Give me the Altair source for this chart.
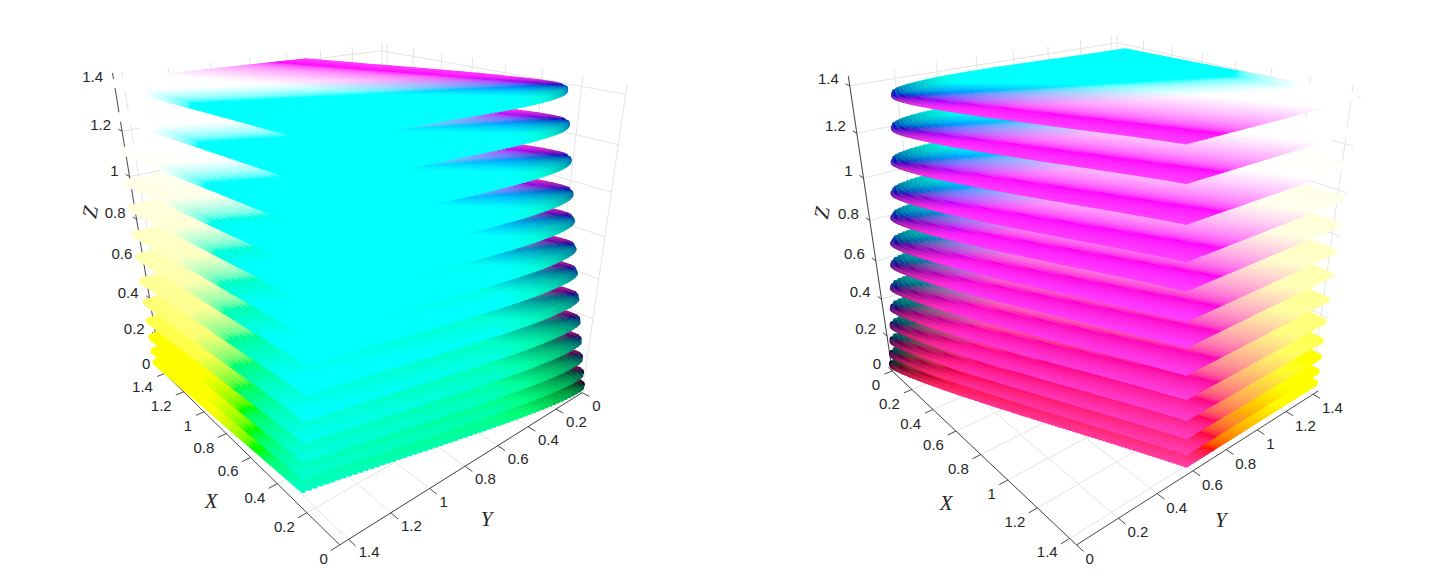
import numpy as np
import pandas as pd
import altair as alt

TICKS = [0, 0.2, 0.4, 0.6, 0.8, 1.0, 1.2, 1.4]
TICK_TEXT = ["0", "0.2", "0.4", "0.6", "0.8", "1", "1.2", "1.4"]
LIM = 1.44
Z_LEVELS = [1.40, 1.263, 1.115, 0.972, 0.855, 0.728, 0.616, 0.493, 0.38, 0.28, 0.19, 0.11, 0.045]

# axis landmarks: (X, Y, Z) -> page position
LEFT_CAL = [
    ((0, 1.44, 0), (340, 545)), ((1.4, 1.44, 0), (165, 374)), ((1.44, 1.44, 0), (160, 368)),
    ((0, 0, 0), (582, 393)), ((0, 1.2, 0), (392, 512)), ((0, 0.6, 0), (498, 447)),
    ((0, 0, 1.4), (626, 95)), ((0, 0, 1.0), (610, 192)), ((1.44, 1.44, 1.4), (113, 83)),
    ((1.44, 1.44, 0.8), (138, 221)), ((1.44, 0, 1.44), (383, 43)), ((0, 0, 1.44), (627, 82)),
]
RIGHT_CAL = [
    ((0, 0, 0), (892, 371)), ((1.44, 0, 0), (1077, 545)), ((1.4, 0, 0), (1069, 538)),
    ((1.44, 0.6, 0), (1191, 472)), ((1.44, 0.2, 0), (1120, 518)), ((1.44, 1.4, 0), (1314, 393)),
    ((0, 0, 1.4), (850, 85)), ((0, 0, 0.8), (870, 221)), ((1.4, 1.44, 1.2), (1345, 143)),
    ((1.4, 1.44, 0.8), (1332, 235)), ((0, 1.44, 1.44), (1117, 35)),
]
XYZ_TO_RGB = np.array([[3.2406, -1.5372, -0.4986],
                       [-0.9689, 1.8758, 0.0415],
                       [0.0557, -0.2040, 1.0570]])
NU, NV = 90, 60
RADIUS = 3.8


def calibrate(pairs):
    rows, rhs = [], []
    for (X, Y, Z), (u, v) in pairs:
        rows.append([X, Y, Z, 1, 0, 0, 0, 0, -u * X, -u * Y, -u * Z]); rhs.append(u)
        rows.append([0, 0, 0, 0, X, Y, Z, 1, -v * X, -v * Y, -v * Z]); rhs.append(v)
    p = np.linalg.lstsq(np.array(rows, float), np.array(rhs, float), rcond=None)[0]
    return np.append(p, 1).reshape(3, 4)


def project(P, X, Y, Z):
    X, Y, Z = np.asarray(X, float), np.asarray(Y, float), np.asarray(Z, float)
    w = P[2, 0] * X + P[2, 1] * Y + P[2, 2] * Z + P[2, 3]
    u = (P[0, 0] * X + P[0, 1] * Y + P[0, 2] * Z + P[0, 3]) / w
    v = (P[1, 0] * X + P[1, 1] * Y + P[1, 2] * Z + P[1, 3]) / w
    return u, v


def to_hex(X, Y, Z):
    r, g, b = XYZ_TO_RGB @ np.vstack([X, Y, Z])
    lift = np.maximum.reduce([np.zeros_like(r), -0.6 * r, -1.15 * g, -b])  # out-of-gamut colours get white
    rgb = np.clip(np.vstack([r, g, b]) + lift, 0, 1)
    rgb = np.where(rgb <= 0.0031308, 12.92 * rgb, 1.055 * rgb ** (1 / 2.4) - 0.055)
    rgb[2] *= np.clip(0.5 + 0.8 * (np.asarray(X) + np.asarray(Y)), 0.68, 1)   # the blue end is duller in the picture
    ints = np.round(rgb * 255).astype(int).T
    return ["#%02x%02x%02x" % tuple(c) for c in ints]


def bow(p):
    return np.sqrt(p) * (1 - p) ** 1.5 / 0.325


def slices(P, far):
    """One frame per level, dropping dots that higher levels hide completely."""
    S, T = [a.ravel() for a in np.meshgrid(np.linspace(0, 1, NU), np.linspace(0, 1, NV))]
    mask = np.zeros((620, 1500), bool)
    test = [(a, b) for a in range(-6, 7) for b in range(-6, 7) if a * a + b * b <= (RADIUS + 1) ** 2]
    stamp = [(a, b) for a in range(-6, 7) for b in range(-6, 7) if a * a + b * b <= (RADIUS - 1) ** 2]
    frames = []
    for z in Z_LEVELS:                      # highest level first
        A = np.array([0.171 * z, 0.064 * z])
        B = np.array([1.40 + 0.03 * (1 - z / 1.4), 0.57 - 0.04 * z])
        C = np.array([far, far])
        D = np.array([0.27 - 0.055 * z, 1.41 - 0.065 * z])
        XY = (np.outer((1 - S) * (1 - T), A) + np.outer(S * (1 - T), B)
              + np.outer(S * T, C) + np.outer((1 - S) * T, D))
        depth = 0.035 + 0.03 * z
        XY[:, 1] -= (1 - T) * bow(S) * depth
        XY[:, 0] -= (1 - S) * bow(T) * depth * 1.2
        Z = np.full(len(S), z)
        u, v = project(P, XY[:, 0], XY[:, 1], Z)
        iu, iv = np.round(u).astype(int) + 10, np.round(v).astype(int) + 10
        hidden = np.ones(len(S), bool)
        for a, b in test:
            hidden &= mask[iv + b, iu + a]
        for a, b in stamp:
            mask[iv + b, iu + a] = True
        keep = ~hidden
        frames.append(pd.DataFrame({"x": np.round(u[keep], 1), "y": np.round(v[keep], 1),
                                    "c": to_hex(XY[keep, 0], XY[keep, 1], Z[keep])}))
    return pd.concat(frames[::-1], ignore_index=True)   # lowest level drawn first


def seg_frame(P, segs):
    a = np.array([s[0] for s in segs], float)
    b = np.array([s[1] for s in segs], float)
    u1, v1 = project(P, a[:, 0], a[:, 1], a[:, 2])
    u2, v2 = project(P, b[:, 0], b[:, 1], b[:, 2])
    return pd.DataFrame({"x": u1, "y": v1, "x2": u2, "y2": v2})


def text_frame(P, pts, texts, dx, dy):
    a = np.array(pts, float)
    u, v = project(P, a[:, 0], a[:, 1], a[:, 2])
    return pd.DataFrame({"x": u + dx, "y": v + dy, "t": texts})


sx = alt.Scale(domain=[8, 1432], nice=False, zero=False)
sy = alt.Scale(domain=[568, 8], nice=False, zero=False)
X_ENC = alt.X("x:Q", scale=sx, axis=None)
Y_ENC = alt.Y("y:Q", scale=sy, axis=None)


def rules(df, color, width):
    return alt.Chart(df).mark_rule(color=color, strokeWidth=width).encode(
        x=X_ENC, y=Y_ENC, x2="x2:Q", y2="y2:Q")


def labels(df, align):
    return alt.Chart(df).mark_text(font="Liberation Sans", fontSize=15, color="#262626",
                                   align=align, baseline="middle").encode(
        x=X_ENC, y=Y_ENC, text="t:N")


def title(df, angle=0):
    return alt.Chart(df).mark_text(font="Liberation Serif", fontStyle="italic", fontSize=21,
                                   color="#262626", align="center", baseline="middle",
                                   angle=angle).encode(x=X_ENC, y=Y_ENC, text="t:N")


def panel(cal, far, wall_x, wall_y, ax_x_y, ax_y_x, x_tick, y_tick, z_tick_to, off):
    P = calibrate(cal)
    grid = []
    for t in TICKS:
        grid += [((t, 0, 0), (t, LIM, 0)), ((0, t, 0), (LIM, t, 0))]
        grid += [((wall_x, t, 0), (wall_x, t, LIM)), ((wall_x, 0, t), (wall_x, LIM, t))]
        grid += [((t, wall_y, 0), (t, wall_y, LIM)), ((0, wall_y, t), (LIM, wall_y, t))]
    zx = zy = LIM if wall_x == LIM else 0
    axes = [((0, ax_x_y, 0), (LIM, ax_x_y, 0)), ((ax_y_x, 0, 0), (ax_y_x, LIM, 0)),
            ((zx, zy, 0), (zx, zy, LIM))]
    tk = []
    for t in TICKS:
        tk.append(((t, ax_x_y, 0), (t, ax_x_y + x_tick, 0)))
        tk.append(((ax_y_x, t, 0), (ax_y_x + y_tick, t, 0)))
        tk.append(((zx, zy, t), (zx + z_tick_to, zy, t)))
    layers = [rules(seg_frame(P, grid), "#e4e4e4", 1),
              rules(seg_frame(P, axes + tk), "#333333", 0.9)]
    layers.append(alt.Chart(slices(P, far)).mark_circle(size=np.pi * RADIUS ** 2, opacity=1).encode(
        x=X_ENC, y=Y_ENC, color=alt.Color("c:N", scale=None)))
    layers.append(labels(text_frame(P, [(t, ax_x_y, 0) for t in TICKS], TICK_TEXT, *off["x"]), "right"))
    layers.append(labels(text_frame(P, [(ax_y_x, t, 0) for t in TICKS], TICK_TEXT, *off["y"]), "left"))
    layers.append(labels(text_frame(P, [(zx, zy, t) for t in TICKS], TICK_TEXT, *off["z"]), "right"))
    layers.append(title(text_frame(P, [(0.7, ax_x_y, 0)], ["X"], *off["tx"])))
    layers.append(title(text_frame(P, [(ax_y_x, 0.7, 0)], ["Y"], *off["ty"])))
    layers.append(title(text_frame(P, [(zx, zy, 0.7)], ["Z"], *off["tz"]), angle=280))
    return layers


left = panel(LEFT_CAL, 1.455, LIM, 0, LIM, 0, 0.04, -0.04, 0.04,
             {"x": (-12, 14), "y": (10, 13), "z": (-11, -6),
              "tx": (-27, 57), "ty": (5, 64), "tz": (-49, -28)})
right = panel(RIGHT_CAL, 1.425, 0, LIM, 0, LIM, -0.04, 0.04, -0.04,
              {"x": (-12, 14), "y": (9, 14), "z": (-11, -7),
               "tx": (-22, 61), "ty": (11, 61), "tz": (-50, -28)})

alt.data_transformers.disable_max_rows()
chart = alt.layer(*(left + right)).properties(width=1424, height=560, padding=0).configure_view(stroke=None)
chart.save("out.html", embed_options={"renderer": "svg", "actions": False})
